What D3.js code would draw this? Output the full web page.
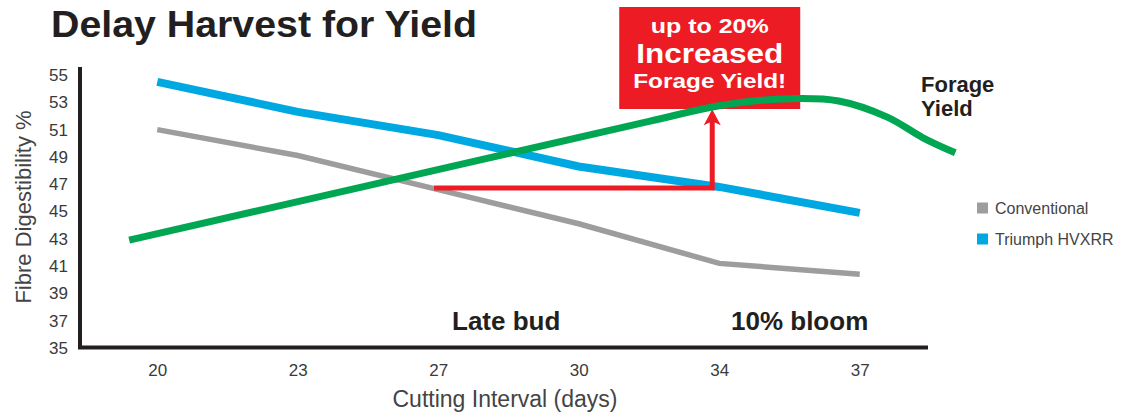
<!DOCTYPE html>
<html>
<head>
<meta charset="utf-8">
<script src="https://cdn.jsdelivr.net/npm/d3@7"></script>
<style>
    body { margin: 0; background: #fff; }
    text { font-family: "Liberation Sans", Arial, Helvetica, sans-serif; }
</style>
</head>
<body>
<div id="chart"></div>
<script>
// 数据
const days = ["20", "23", "27", "30", "34", "37"];
const conventional = [51.0, 49.1, 46.6, 44.1, 41.2, 40.4];
const triumph = [54.5, 52.3, 50.6, 48.3, 46.8, 44.9];
// 产量曲线 (x = 天数序号, y = 相对高度)
const forageIdx = [-0.2, 1.5, 3.5, 4.0, 4.45, 4.85, 5.2, 5.45, 5.68];
const forageVal = [42.9, 46.9, 51.6, 52.75, 53.25, 53.1, 51.9, 50.4, 49.3];
const yTicks = [35, 37, 39, 41, 43, 45, 47, 49, 51, 53, 55];
const seriesNames = ["Conventional", "Triumph HVXRR"];
const seriesColors = ["#9d9d9d", "#00a8e1"];
// 箭头注释: 起点序号, 终点序号, 水平高度, 箭头顶端
const arrowFrom = 1.97, arrowTo = 3.95, arrowLevel = 46.72, arrowTop = 52.5;

const width = 1122, height = 416;
const svg = d3.select("#chart").append("svg")
    .attr("width", width)
    .attr("height", height);

const x = d3.scaleLinear().domain([-0.55, 5.5]).range([80, 930]);
const y = d3.scaleLinear().domain([35, 55]).range([348, 75]);

// 标题
svg.append("text")
    .attr("x", 51).attr("y", 37)
    .attr("font-size", 37).attr("font-weight", "bold")
    .attr("fill", "#231f20")
    .attr("textLength", 426)
    .attr("lengthAdjust", "spacingAndGlyphs")
    .text("Delay Harvest for Yield");

// 坐标轴
const yAxis = svg.append("g")
    .attr("transform", "translate(80,0)")
    .call(d3.axisLeft(y).tickValues(yTicks).tickSize(0).tickPadding(12));
yAxis.select(".domain").remove();
yAxis.selectAll("text")
    .attr("font-size", 17).attr("fill", "#3a3a3a")
    .style("font-family", "'Liberation Sans', Arial, sans-serif");

const xAxis = svg.append("g")
    .attr("transform", "translate(0,348)")
    .call(d3.axisBottom(x).tickValues(d3.range(days.length)).tickFormat(i => days[i]).tickSize(0).tickPadding(16));
xAxis.select(".domain").remove();
xAxis.selectAll("text")
    .attr("font-size", 17).attr("fill", "#3a3a3a")
    .style("font-family", "'Liberation Sans', Arial, sans-serif");

svg.append("path")
    .attr("d", "M80,67V347.5H928")
    .attr("fill", "none")
    .attr("stroke", "#231f20")
    .attr("stroke-width", 4);

// 轴标题
svg.append("text")
    .attr("transform", "translate(31,207) rotate(-90)")
    .attr("text-anchor", "middle")
    .attr("font-size", 22).attr("fill", "#444")
    .text("Fibre Digestibility %");

svg.append("text")
    .attr("x", 505).attr("y", 407)
    .attr("text-anchor", "middle")
    .attr("font-size", 23).attr("fill", "#444")
    .text("Cutting Interval (days)");

// 生长阶段标签
svg.append("text")
    .attr("x", 452).attr("y", 330)
    .attr("font-size", 26).attr("font-weight", "bold").attr("fill", "#231f20")
    .text("Late bud");
svg.append("text")
    .attr("x", 731).attr("y", 330)
    .attr("font-size", 26).attr("font-weight", "bold").attr("fill", "#231f20")
    .text("10% bloom");

// 数据线
const line = d3.line().x((d, i) => x(i)).y(d => y(d));
svg.append("path")
    .datum(conventional)
    .attr("d", line)
    .attr("fill", "none")
    .attr("stroke", seriesColors[0])
    .attr("stroke-width", 5.5);
svg.append("path")
    .datum(triumph)
    .attr("d", line)
    .attr("fill", "none")
    .attr("stroke", seriesColors[1])
    .attr("stroke-width", 8);

// 红色框
const ax = x(arrowTo);
svg.append("rect")
    .attr("x", ax - 93).attr("y", 7)
    .attr("width", 181).attr("height", 102)
    .attr("fill", "#ed1c24");
const boxText = [["up to 20%", 20, 33, 118], ["Increased", 28, 63, 147], ["Forage Yield!", 21, 88, 153]];
boxText.forEach(([t, s, yy, w]) => {
    svg.append("text")
        .attr("x", ax - 2.5).attr("y", yy)
        .attr("text-anchor", "middle")
        .attr("font-size", s).attr("font-weight", "bold").attr("fill", "#fff")
        .attr("textLength", w)
        .attr("lengthAdjust", "spacingAndGlyphs")
        .text(t);
});

// 红色箭头
const tip = y(arrowTop);
svg.append("path")
    .attr("d", `M${x(arrowFrom)},${y(arrowLevel)}H${ax}V${tip + 10}`)
    .attr("fill", "none")
    .attr("stroke", "#ed1c24")
    .attr("stroke-width", 5);
svg.append("path")
    .attr("d", `M${ax},${tip}L${ax + 8.5},${tip + 16}L${ax},${tip + 12}L${ax - 8.5},${tip + 16}Z`)
    .attr("fill", "#ed1c24");

// 产量曲线
const forageLine = d3.line()
    .x(d => x(d[0])).y(d => y(d[1]))
    .curve(d3.curveCatmullRom.alpha(0.5));
svg.append("path")
    .datum(forageIdx.map((v, i) => [v, forageVal[i]]))
    .attr("d", forageLine)
    .attr("fill", "none")
    .attr("stroke", "#00a651")
    .attr("stroke-width", 7);

svg.append("text")
    .attr("x", 921).attr("y", 92)
    .attr("font-size", 22).attr("font-weight", "bold").attr("fill", "#231f20")
    .text("Forage");
svg.append("text")
    .attr("x", 921).attr("y", 116)
    .attr("font-size", 22).attr("font-weight", "bold").attr("fill", "#231f20")
    .text("Yield");

// 图例
const legend = svg.append("g").attr("transform", "translate(977,0)");
seriesNames.forEach((name, i) => {
    const ly = 208 + i * 31;
    legend.append("rect")
        .attr("x", 0).attr("y", ly - 5.5)
        .attr("width", 11).attr("height", 11)
        .attr("fill", seriesColors[i]);
    legend.append("text")
        .attr("x", 18).attr("y", ly + 5.5)
        .attr("font-size", 16).attr("fill", "#444")
        .text(name);
});
</script>
</body>
</html>
